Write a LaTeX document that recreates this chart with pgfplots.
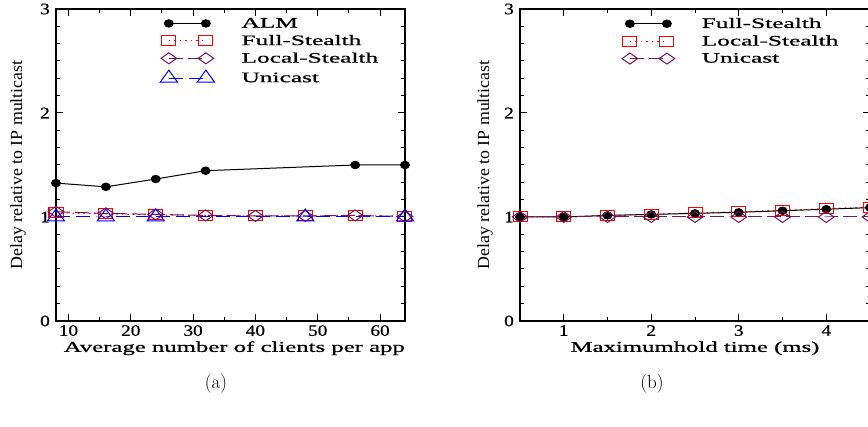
\documentclass[border=0pt]{standalone}
\usepackage{fontspec}
\usepackage{graphicx}
\usepackage{pgfplots}
\pgfplotsset{compat=1.18}
\newfontfamily\lib{Liberation Serif}
\newfontfamily\libh[FakeBold=0.6]{Liberation Serif}
\definecolor{maroonx}{RGB}{112,24,90}
\newcommand\wl[1]{\scalebox{1.65}[1]{#1}}
\newcommand\wg[1]{\scalebox{1.75}[1]{#1}}

\pgfplotsset{
  grace/.style={
    scale only axis, height=312pt, clip=false,
    axis line style={line width=1.2pt},
    every tick/.style={black, line width=1pt},
    major tick length=7pt, minor tick length=4pt,
    tick align=inside,
    ymin=0, ymax=3, ytick={0,1,2,3}, minor y tick num=5,
    /pgf/number format/assume math mode=true,
    tick label style={font=\libh\fontsize{16}{16}\selectfont},
    xticklabel={\scalebox{1.2}[1]{\pgfmathprintnumber{\tick}}},
    yticklabel={\scalebox{1.2}[1]{\pgfmathprintnumber{\tick}}},
    xticklabel style={inner sep=0pt, yshift=-4pt},
    yticklabel style={inner sep=0pt, xshift=-6pt},
    label style={font=\libh\fontsize{15}{15}\selectfont},
    xlabel style={anchor=base},
    ylabel style={anchor=center, font=\lib\fontsize{17}{17}\selectfont},
    legend style={draw=none, fill=none, inner sep=0pt, row sep=6pt,
      font=\libh\fontsize{14.5}{14.5}\selectfont,
      nodes={inner sep=0pt}, column sep=27pt, anchor=north west},
    legend cell align=left,
    legend image code/.code={%
      \draw[##1, mark=none] (0pt,0pt) -- (37pt,0pt);
      \draw[##1, only marks] plot coordinates {(0pt,0pt) (37pt,0pt)};},
  },
  sblack/.style={black, line width=1pt, mark=*, mark size=3.7pt, mark options={xscale=1.2}},
  sred/.style={red, line width=1pt, dash pattern=on 1.5pt off 4pt, mark=square, mark size=5pt, mark options={xscale=1.4, solid, fill=none, draw=red}},
  spurp/.style={maroonx, line width=1pt, dash pattern=on 14pt off 5pt, mark=diamond, mark size=5.5pt, mark options={xscale=1.9, solid, fill=none, draw=maroonx}},
  sblue/.style={blue, line width=1pt, dash pattern=on 14pt off 6pt, mark=triangle, mark size=8pt, mark options={xscale=1.25, solid, fill=none, draw=blue}},
}

\begin{document}
\begin{tikzpicture}
\useasboundingbox (0pt,0pt) rectangle (868pt,427pt);

\begin{axis}[grace, at={(56pt,106pt)}, anchor=south west, width=349pt,
  xmin=8, xmax=64, xtick={10,20,30,40,50,60}, minor x tick num=1,
  xlabel={\wl{Average number of clients per app}},
  xlabel style={at={(axis description cs:0.511,-0.099)}},
  ylabel={\scalebox{1.05}[1]{Delay relative to IP multicast}},
  ylabel style={at={(axis description cs:-0.109,0.5)}},
  legend style={at={(axis description cs:0.298,0.972)}},
]
\addplot[sblack, forget plot] coordinates {(8,1.326) (16,1.29) (24,1.365) (32,1.445) (56,1.50) (64,1.50)};
\addplot[sred, forget plot] coordinates {(8,1.04) (16,1.03) (24,1.02) (32,1.015) (40,1.01) (48,1.01) (56,1.015) (64,1.005)};
\addplot[spurp, forget plot] coordinates {(8,1.05) (16,1.035) (24,1.025) (32,1.015) (40,1.01) (48,1.01) (56,1.015) (64,1.005)};
\addplot[sblue, forget plot] coordinates {(8,1.0) (16,1.0) (24,1.0) (48,1.0) (64,1.0)};
\addlegendimage{sblack}\addlegendentry{\wg{ALM}}
\addlegendimage{sred}\addlegendentry{\wg{Full-Stealth}}
\addlegendimage{spurp}\addlegendentry{\wg{Local-Stealth}}
\addlegendimage{sblue}\addlegendentry{\wg{Unicast}}
\end{axis}

\begin{axis}[grace, at={(520pt,106pt)}, anchor=south west, width=350pt,
  xmin=0.5, xmax=4.5, xtick={1,2,3,4}, minor x tick num=1,
  xlabel={\wl{Maximumhold time (ms)}},
  xlabel style={at={(axis description cs:0.5,-0.099)}},
  ylabel={\scalebox{1.05}[1]{Delay relative to IP multicast}},
  ylabel style={at={(axis description cs:-0.1,0.5)}},
  legend style={at={(axis description cs:0.291,0.972)}},
]
\addplot[sred, forget plot] coordinates {(0.5,1.0) (1,1.0) (1.5,1.015) (2,1.025) (2.5,1.04) (3,1.05) (3.5,1.065) (4,1.08) (4.5,1.095)};
\addplot[sblack, forget plot] coordinates {(0.5,1.0) (1,1.0) (1.5,1.015) (2,1.025) (2.5,1.035) (3,1.045) (3.5,1.06) (4,1.075) (4.5,1.09)};
\addplot[spurp, forget plot] coordinates {(0.5,1.0) (1,1.0) (1.5,1.0) (2,1.0) (2.5,1.0) (3,1.0) (3.5,1.0) (4,1.0) (4.5,1.0)};
\addlegendimage{sblack}\addlegendentry{\wg{Full-Stealth}}
\addlegendimage{sred}\addlegendentry{\wg{Local-Stealth}}
\addlegendimage{spurp}\addlegendentry{\wg{Unicast}}
\end{axis}

\node[font=\fontsize{19}{19}\selectfont] at (216pt,43pt) {(a)};
\node[font=\fontsize{19}{19}\selectfont] at (652pt,43pt) {(b)};
\end{tikzpicture}
\end{document}
